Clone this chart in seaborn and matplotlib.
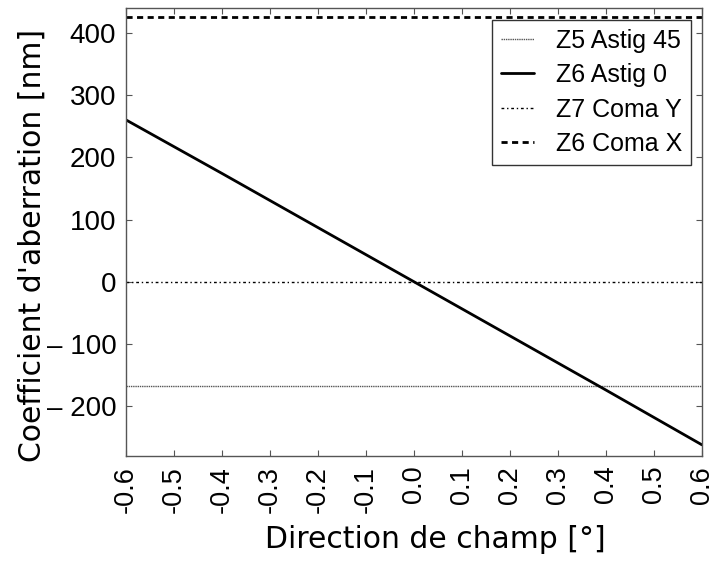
import matplotlib
matplotlib.use("Agg")
import matplotlib.pyplot as plt
import seaborn as sns
import pandas as pd

field = [-0.6, -0.4, -0.2, 0.0, 0.2, 0.4, 0.6]
z5_astig45 = [-167, -167, -167, -167, -167, -167, -167]
z6_astig0 = [260, 174, 87, 0, -87, -174, -262]
z7_comaY = [0, 0, 0, 0, 0, 0, 0]
z6_comaX = [426, 426, 426, 426, 426, 426, 426]
labels = ["Z5 Astig 45", "Z6 Astig 0", "Z7 Coma Y", "Z6 Coma X"]
xticks = [-0.6, -0.5, -0.4, -0.3, -0.2, -0.1, 0.0, 0.1, 0.2, 0.3, 0.4, 0.5, 0.6]
yticks = [400, 300, 200, 100, 0, -100, -200]
ytick_labels = ["400", "300", "200", "100", "0", "\u2013 100", "\u2013 200"]

sns.set_style("white")
plt.rcParams['font.family'] = ['Liberation Sans', 'DejaVu Sans']
plt.rcParams['text.color'] = 'black'
plt.rcParams['axes.labelcolor'] = 'black'
plt.rcParams['xtick.color'] = 'black'
plt.rcParams['ytick.color'] = 'black'

fig = plt.figure(figsize=(7.12, 5.61), dpi=100)
ax = fig.add_axes([0.177, 0.187, 0.809, 0.799])

series = [z5_astig45, z6_astig0, z7_comaY, z6_comaX]
styles = [
    dict(color="#555555", lw=1.0, linestyle=(0, (1, 0.6))),
    dict(color="black", lw=2.0, linestyle="-"),
    dict(color="black", lw=1.0, linestyle=(0, (2, 2, 1, 2))),
    dict(color="black", lw=2.0, linestyle=(0, (2.2, 1.6))),
]
for lab, vals, st in zip(labels, series, styles):
    df = pd.DataFrame({"x": field, "y": vals})
    sns.lineplot(data=df, x="x", y="y", ax=ax, label=lab, **st)

ax.set_xlim(-0.6, 0.6)
ax.set_ylim(-280, 440)
ax.set_xticks(xticks)
ax.set_xticklabels([f"{v:.1f}" for v in xticks], rotation=90, fontsize=19.5)
ax.set_yticks(yticks)
ax.set_yticklabels(ytick_labels, fontsize=20)
ax.tick_params(axis="both", direction="in", length=4, color="#555555",
               labelcolor="black",
               top=True, right=True, bottom=True, left=True, pad=7)
for sp in ax.spines.values():
    sp.set_color("#555555")
    sp.set_linewidth(1.0)
ax.set_xlabel("Direction de champ [°]", fontsize=21.5, family=["DejaVu Sans"])
ax.set_ylabel("Coefficient d'aberration [nm]", fontsize=21.5, family=["DejaVu Sans"])
ax.xaxis.set_label_coords((435 - 126) / 576, -(525 - 456) / 448)
ax.yaxis.set_label_coords(-(126 - 47) / 576, (456 - 245) / 448)

leg = ax.legend(loc="upper right", fontsize=18, frameon=True, fancybox=False,
                edgecolor="#333333", framealpha=1, borderpad=0.35,
                borderaxespad=0, handlelength=1.3, handletextpad=0.9,
                labelspacing=0.42, bbox_to_anchor=(0.981, 0.973))
leg.get_frame().set_linewidth(1.0)

fig.savefig("out.png", dpi=100)
